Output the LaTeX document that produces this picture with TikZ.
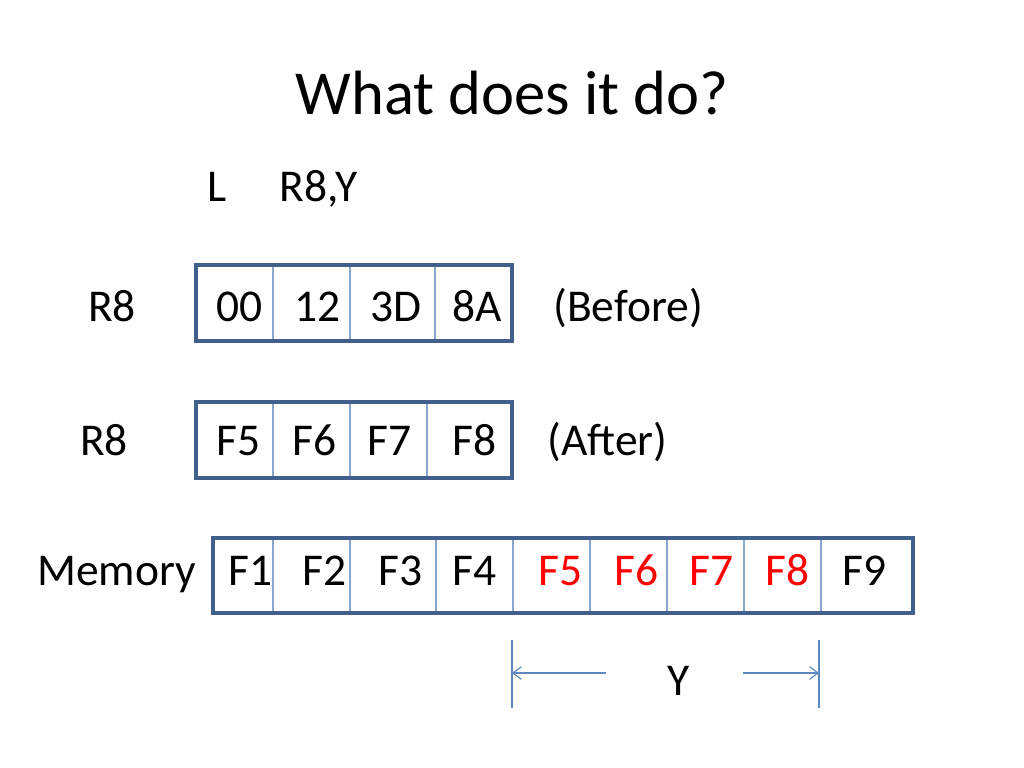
\documentclass[tikz,border=0pt]{standalone}
\usepackage{fontspec}
\setmainfont{Carlito}
\usetikzlibrary{arrows.meta}
\definecolor{frameblue}{HTML}{41608C}
\definecolor{cellblue}{HTML}{8AA6CE}
\definecolor{dimblue}{HTML}{5F87BF}
\definecolor{memred}{HTML}{FF0000}
\tikzset{
  title/.style={font=\fontsize{44}{53}\selectfont, inner sep=0pt, anchor=base},
  txt/.style={font=\fontsize{32}{38}\selectfont, inner sep=0pt, anchor=base west},
  redtxt/.style={txt, text=memred},
  outerframe/.style={draw=frameblue, line width=2.2pt},
  celldiv/.style={draw=cellblue, line width=0.9pt},
  dimline/.style={draw=dimblue, line width=0.8pt},
  dimarrow/.style={draw=dimblue, line width=0.8pt, -{Straight Barb[length=6pt,width=9pt]}},
}
\begin{document}
\begin{tikzpicture}[x=0.703125pt, y=-0.703125pt]
\useasboundingbox[fill=white] (0,0) rectangle (1024,768);

% title
\node[title] (ttl) at (512,115) {What does it do?};
\node[txt] (instrL) at (207,202) {L};
\node[txt] (instrR) at (279,202) {R8,Y};

% Row 1: R8 before
\node[txt] (lab1) at (88,322) {R8};
\draw[celldiv] (273,265) -- (273,341) (350,265) -- (350,341) (435,265) -- (435,341);
\draw[outerframe] (196,265) rectangle (512,341);
\node[txt] (b1) at (216,322) {00};
\node[txt] (b2) at (294,322) {12};
\node[txt] (b3) at (370,322) {3D};
\node[txt] (b4) at (452,322) {8A};
\node[txt] (before) at (553,322) {(Before)};

% Row 2: R8 after
\node[txt] (lab2) at (80,455) {R8};
\draw[celldiv] (273,402) -- (273,478) (350,402) -- (350,478) (427,402) -- (427,478);
\draw[outerframe] (196,402) rectangle (512,478);
\node[txt] (a1) at (216,455) {F5};
\node[txt] (a2) at (292,455) {F6};
\node[txt] (a3) at (367,455) {F7};
\node[txt] (a4) at (452,455) {F8};
\node[txt] (after) at (547,455) {(After)};

% Memory
\node[txt] (labm) at (37,585) {Memory};
\foreach \xx in {273,350,436,513,590,667,744,821}
  \draw[celldiv] (\xx,538) -- (\xx,613);
\draw[outerframe] (213,538) rectangle (913,613);
\node[txt] (m1) at (228,585) {F1};
\node[txt] (m2) at (302,585) {F2};
\node[txt] (m3) at (378,585) {F3};
\node[txt] (m4) at (452,585) {F4};
\node[redtxt] (m5) at (538,585) {F5};
\node[redtxt] (m6) at (614,585) {F6};
\node[redtxt] (m7) at (689,585) {F7};
\node[redtxt] (m8) at (765,585) {F8};
\node[txt] (m9) at (842,585) {F9};

% dimension Y
\coordinate (dlt) at (512,640);
\coordinate (dlb) at (512,708);
\coordinate (drt) at (819,640);
\coordinate (drb) at (819,708);
\coordinate (dla) at (512,673);
\coordinate (dls) at (606,673);
\coordinate (dra) at (819,673);
\coordinate (drs) at (743,673);
\draw[dimline] (dlt) -- (dlb);
\draw[dimline] (drt) -- (drb);
\draw[dimarrow] (dls) -- (dla);
\draw[dimarrow] (drs) -- (dra);
\node[txt] (ylab) at (667,695) {Y};
\end{tikzpicture}
\end{document}
